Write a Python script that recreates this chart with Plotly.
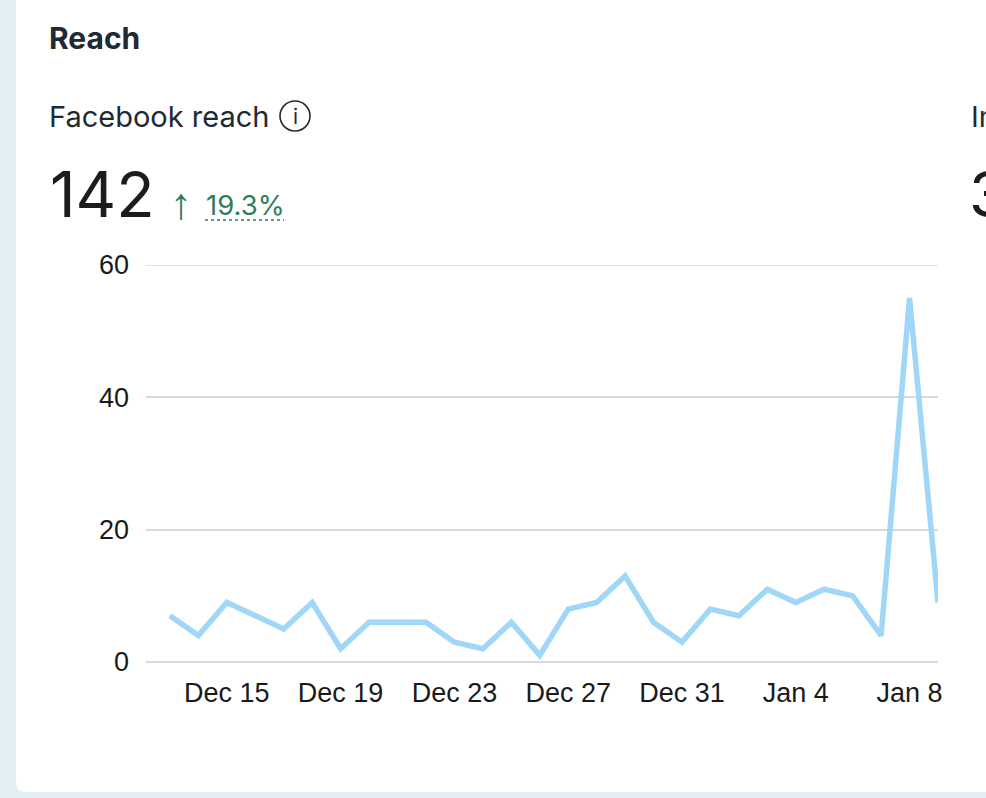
import plotly.graph_objects as go
import pandas as pd

# ---- data ----
dates = pd.date_range("2024-12-13", "2025-01-09", freq="D")
reach = [7, 4, 9, 7, 5, 9, 2, 6, 6, 6, 3, 2, 6, 1, 8, 9, 13, 6, 3, 8, 7, 11, 9, 11, 10, 4, 55, 9]
tick_dates = ["2024-12-15", "2024-12-19", "2024-12-23", "2024-12-27", "2024-12-31", "2025-01-04", "2025-01-08"]
tick_labels = ["Dec 15", "Dec 19", "Dec 23", "Dec 27", "Dec 31", "Jan 4", "Jan 8"]
y_ticks = [0, 20, 40, 60]
title = "Reach"
metric_name = "Facebook reach"
metric_total = "142"
metric_change = "19.3%"
next_name = "Impressions"
next_total = "3"

W, H = 986, 798
L, R, T, B = 146, 938, 265, 662  # plot area in pixels


def px(x):
    return (x - L) / (R - L)


def py(y):
    return (B - y) / (B - T)


fig = go.Figure()
fig.add_trace(go.Scatter(
    x=dates, y=reach, mode="lines",
    line=dict(color="#a0d6f8", width=5.5),
    hoverinfo="skip", showlegend=False,
))

x_start = dates[0] - pd.Timedelta(hours=20.2)
x_end = dates[-1]

DARK = "#1f2a33"
GREEN = "#2f7d5b"
GRID = "#d9d9d9"
TEXT_FONT = "Inter"

shapes = [
    # white card with rounded bottom-left corner
    dict(type="path", xref="paper", yref="paper",
         path=(f"M {px(16)},{py(-20)} L {px(1100)},{py(-20)} L {px(1100)},{py(792)} "
               f"L {px(26)},{py(792)} Q {px(16)},{py(792)} {px(16)},{py(782)} Z"),
         fillcolor="white", line=dict(width=0), layer="below"),
    # top gridline (hidden by plotly at the range edge)
    dict(type="line", xref="paper", yref="y", x0=0, x1=1, y0=y_ticks[-1], y1=y_ticks[-1],
         line=dict(color=GRID, width=1.5), layer="below"),
    # info icon circle
    dict(type="circle", xref="paper", yref="paper",
         x0=px(280), x1=px(310), y0=py(101), y1=py(131),
         line=dict(color=DARK, width=1.6)),
    # dotted underline under change
    dict(type="line", xref="paper", yref="paper",
         x0=px(205), x1=px(284), y0=py(220), y1=py(220),
         line=dict(color=GREEN, width=1.3, dash="dot")),
]

annotations = [
    dict(text=f"<b>{title}</b>", x=px(47), y=py(38), font=dict(family=TEXT_FONT, size=30, color=DARK)),
    dict(text=metric_name, x=px(47), y=py(116), font=dict(family=TEXT_FONT, size=29, color=DARK)),
    dict(text="i", x=px(295), y=py(116), xanchor="center", font=dict(family=TEXT_FONT, size=21, color=DARK)),
    dict(text=metric_total, x=px(48), y=py(194), font=dict(family=TEXT_FONT, size=63, color="#1c1c1e")),
    dict(text="↑", x=px(181), y=py(203), xanchor="center", font=dict(family="Liberation Sans", size=44, color=GREEN)),
    dict(text=metric_change, x=px(204), y=py(205), font=dict(family=TEXT_FONT, size=27.5, color=GREEN)),
    dict(text=next_name, x=px(969), y=py(116), font=dict(family=TEXT_FONT, size=29, color=DARK)),
    dict(text=next_total, x=px(967), y=py(194), font=dict(family=TEXT_FONT, size=63, color="#1c1c1e")),
]
for a in annotations:
    a.setdefault("xanchor", "left")
    a.update(xref="paper", yref="paper", yanchor="middle", showarrow=False)

fig.update_layout(
    width=W, height=H,
    margin=dict(l=L, r=W - R, t=T, b=H - B, pad=0),
    paper_bgcolor="#e3eef5",
    plot_bgcolor="white",
    shapes=shapes,
    annotations=annotations,
    xaxis=dict(
        range=[x_start, x_end],
        tickvals=pd.to_datetime(tick_dates), ticktext=tick_labels,
        showgrid=False, zeroline=False, showline=False, ticks="",
        tickfont=dict(family="Liberation Sans", size=27, color="#1a1a1a"),
        ticklabelstandoff=12,
    ),
    yaxis=dict(
        range=[0, 60], tickvals=y_ticks,
        showgrid=True, gridcolor=GRID, gridwidth=1.5,
        zeroline=True, zerolinecolor=GRID, zerolinewidth=1.5,
        showline=False, ticks="",
        tickfont=dict(family="Liberation Sans", size=27, color="#1a1a1a"),
        ticklabelstandoff=16,
    ),
)

fig.write_html(
    "out.html",
    config={"displayModeBar": False},
    post_script="document.body.style.margin='0';document.body.style.overflow='hidden';",
)
